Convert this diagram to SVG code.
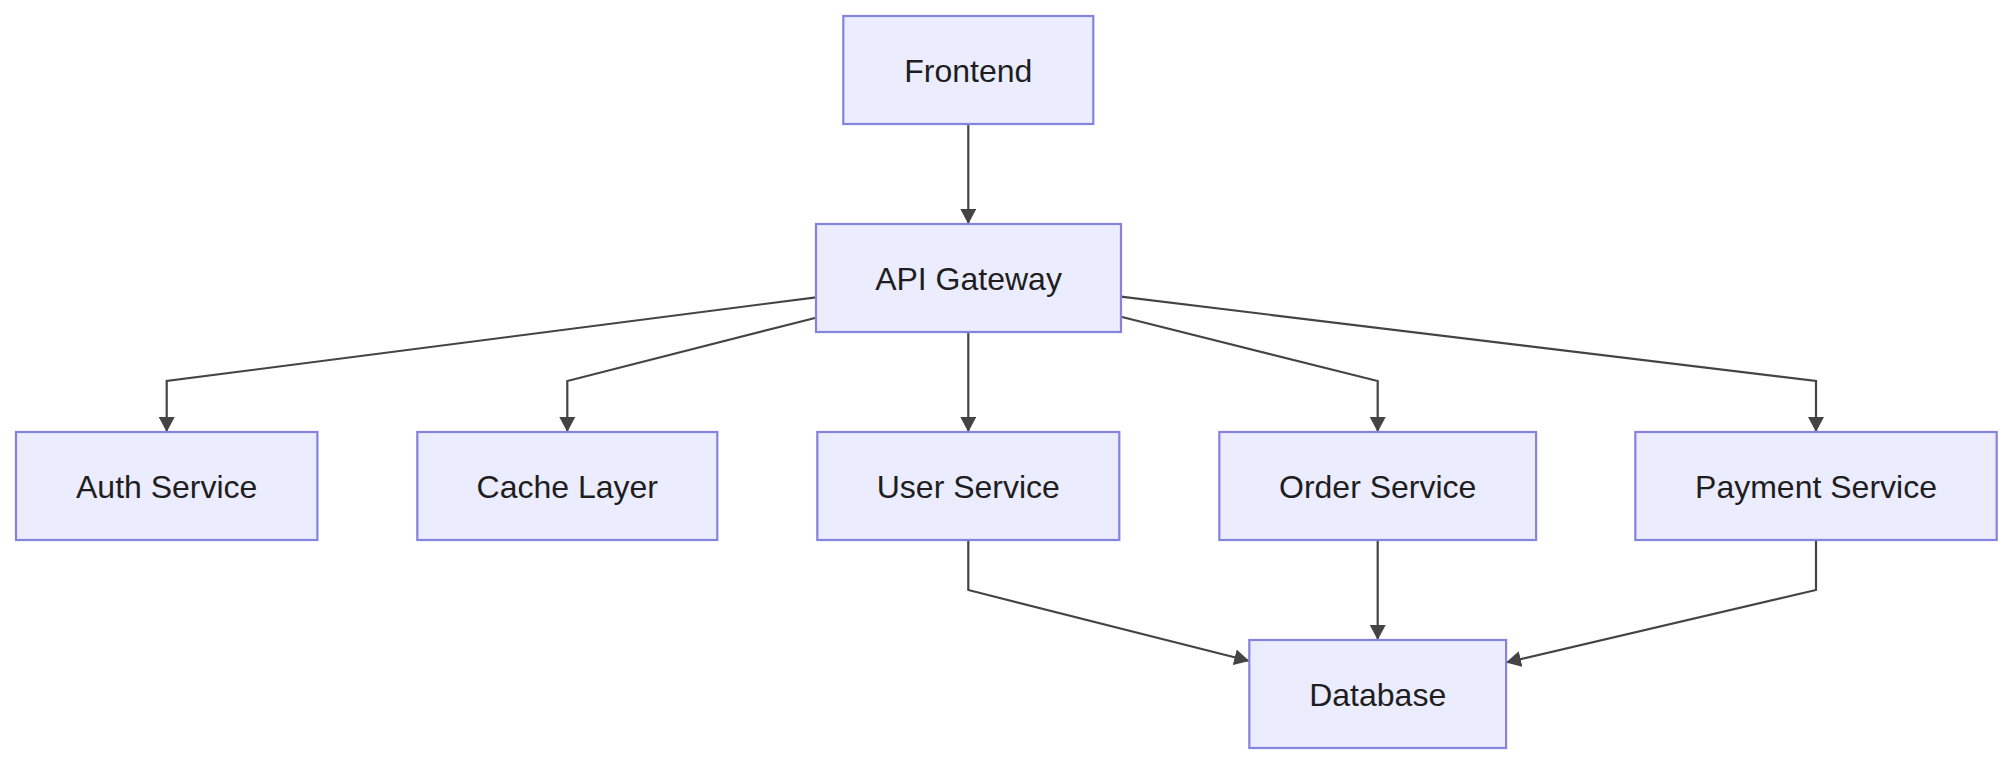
<svg xmlns="http://www.w3.org/2000/svg" width="2012" height="764" viewBox="0 0 2012 764">
<style>
.node rect{fill:#ECECFF;stroke:#8583DE;stroke-width:2.2}
.node text{font-family:"Liberation Sans",Arial,Helvetica,sans-serif;font-size:32px;fill:#1e1e1e;text-anchor:middle}
.edge{fill:none;stroke:#444;stroke-width:2.2;marker-end:url(#arrow)}
</style>
<defs>
<marker id="arrow" markerUnits="userSpaceOnUse" viewBox="0 0 15 16" refX="15" refY="8" markerWidth="15" markerHeight="16" orient="auto">
<path d="M0,0 L15,8 L0,16 z" fill="#444"/>
</marker>
</defs>
<rect width="2012" height="764" fill="#ffffff"/>
<g id="connectors">
<path class="edge" d="M968.3,124.3 L968.3,224"/>
<path class="edge" d="M816,297.3 L166.7,381 L166.7,432"/>
<path class="edge" d="M816,317.7 L567.3,381 L567.3,432"/>
<path class="edge" d="M968.3,331.7 L968.3,432"/>
<path class="edge" d="M1121,316.7 L1377.7,381 L1377.7,432"/>
<path class="edge" d="M1121,296.7 L1816,381 L1816,432"/>
<path class="edge" d="M968.3,540 L968.3,590 L1249.3,661"/>
<path class="edge" d="M1377.7,540 L1377.7,640"/>
<path class="edge" d="M1816,540 L1816,590 L1506,662.5"/>
</g>
<g id="frontend" class="node"><rect x="843.3" y="16" width="250" height="108"/><text x="968.3" y="81.5">Frontend</text></g>
<g id="api-gateway" class="node"><rect x="816" y="224" width="305" height="108"/><text x="968.5" y="289.5">API Gateway</text></g>
<g id="auth-service" class="node"><rect x="16" y="432" width="301.4" height="108"/><text x="166.7" y="497.5">Auth Service</text></g>
<g id="cache-layer" class="node"><rect x="417.3" y="432" width="300" height="108"/><text x="567.3" y="497.5">Cache Layer</text></g>
<g id="user-service" class="node"><rect x="817.3" y="432" width="302" height="108"/><text x="968.3" y="497.5">User Service</text></g>
<g id="order-service" class="node"><rect x="1219.3" y="432" width="316.8" height="108"/><text x="1377.7" y="497.5">Order Service</text></g>
<g id="payment-service" class="node"><rect x="1635.3" y="432" width="361.4" height="108"/><text x="1816" y="497.5">Payment Service</text></g>
<g id="database" class="node"><rect x="1249.3" y="640" width="256.8" height="108"/><text x="1377.7" y="705.5">Database</text></g>
</svg>
